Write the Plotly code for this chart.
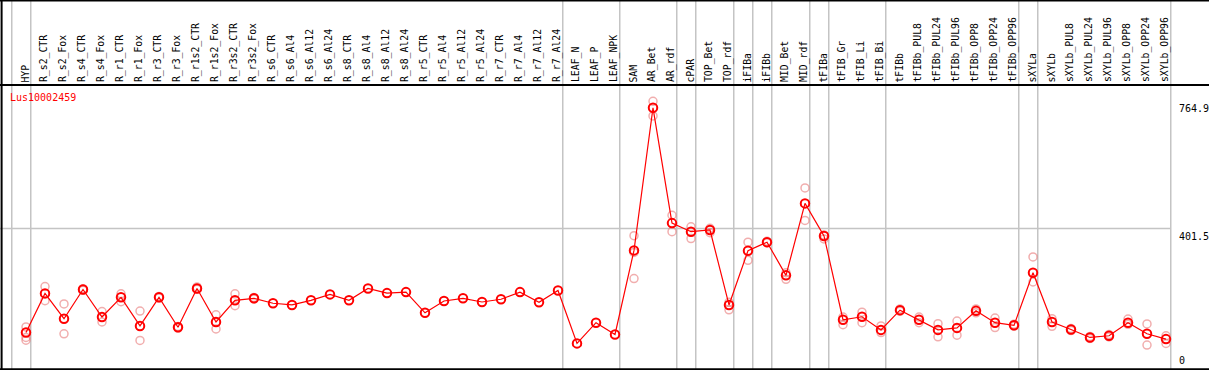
import plotly.graph_objects as go

categories = ["HYP", "R_s2_CTR", "R_s2_Fox", "R_s4_CTR", "R_s4_Fox", "R_r1_CTR", "R_r1_Fox",
              "R_r3_CTR", "R_r3_Fox", "R_r1s2_CTR", "R_r1s2_Fox", "R_r3s2_CTR", "R_r3s2_Fox",
              "R_s6_CTR", "R_s6_Al4", "R_s6_Al12", "R_s6_Al24", "R_s8_CTR", "R_s8_Al4", "R_s8_Al12",
              "R_s8_Al24", "R_r5_CTR", "R_r5_Al4", "R_r5_Al12", "R_r5_Al24", "R_r7_CTR", "R_r7_Al4",
              "R_r7_Al12", "R_r7_Al24", "LEAF_N", "LEAF_P", "LEAF_NPK", "SAM", "AR_Bet", "AR_rdf",
              "cPAR", "TOP_Bet", "TOP_rdf", "iFIBa", "iFIBb", "MID_Bet", "MID_rdf", "tFIBa",
              "tFIB_Gr", "tFIB_Li", "tFIB_Bi", "tFIBb", "tFIBb_PUL8", "tFIBb_PUL24", "tFIBb_PUL96",
              "tFIBb_OPP8", "tFIBb_OPP24", "tFIBb_OPP96", "sXYLa", "sXYLb", "sXYLb_PUL8",
              "sXYLb_PUL24", "sXYLb_PUL96", "sXYLb_OPP8", "sXYLb_OPP24", "sXYLb_OPP96"]

mean_values = [104.2, 216.1, 143.7, 227.3, 148.5, 204.8, 123.1, 204.8, 119.2, 230.1, 134.4,
               196.3, 202.0, 187.9, 183.1, 196.3, 213.2, 196.3, 230.1, 216.9, 219.7, 160.6,
               194.4, 202.0, 191.5, 199.2, 219.7, 190.7, 224.5, 73.2, 132.4, 98.6, 338.9,
               746.5, 416.9, 392.4, 397.2, 183.1, 338.0, 362.5, 267.6, 473.2, 380.3, 140.8,
               149.3, 111.8, 168.2, 140.8, 111.8, 117.5, 166.2, 132.4, 124.8, 275.2, 134.4,
               112.7, 90.1, 94.9, 132.4, 100.6, 85.4]

N = None
rep1_values = [120.3, 235.8, 185.9, 229.0, 164.2, 214.9, 165.4, 207.0, 121.1, 234.6, 154.9,
               214.9, 204.2, N, N, N, N, N, N, N, N, N, N, N, N, N, N, N, N, N, N, N, 381.1,
               764.9, 439.4, 406.5, 402.0, 190.7, 362.5, 364.8, 275.2, 517.5, 383.1, 148.5,
               162.5, 123.1, 171.8, 148.5, 129.6, 137.2, 171.8, 145.6, 128.2, 320.3, 143.7,
               115.5, 93.0, 98.6, 142.8, 128.7, 94.9]
rep2_values = [90.1, 195.2, 100.6, 225.4, 134.4, 192.4, 81.7, 202.8, 116.9, 228.2, 114.6,
               181.1, 200.0, N, N, N, N, N, N, N, N, N, N, N, N, N, N, N, N, N, N, N, 258.3,
               723.1, 392.4, 372.7, 389.6, 169.0, 310.7, 360.6, 256.3, 424.5, 371.8, 126.8,
               132.4, 104.2, 164.8, 132.4, 92.1, 96.6, 160.6, 118.3, 122.5, 248.7, 122.0,
               109.9, 87.3, 91.5, 127.6, 68.5, 73.2]
rep3_values = [82.5] + [N] * 31 + [333.2] + [N] * 28

gene_name = "Lus10002459"
max_label = "764.9"
mid_label = "401.5"
mid_value = 401.5
separators_after = [-1, 0, 28, 31, 34, 35, 37, 38, 39, 41, 42, 45, 52, 53, 60]

W, H = 1209, 370
xi = list(range(len(categories)))
x_range = [-26 / 19, (W - 26) / 19]
y_range = [-2.858, 1054.5]

def py(pix):
    return 1 - pix / H

fig = go.Figure()

rep_color = "rgba(232,120,120,0.6)"
for reps in (rep1_values, rep2_values, rep3_values):
    fig.add_trace(go.Scatter(
        x=xi, y=reps, mode="markers", showlegend=False, hoverinfo="skip",
        marker=dict(symbol="circle-open", size=8, color=rep_color, line=dict(width=1.5, color=rep_color)),
    ))

fig.add_trace(go.Scatter(
    x=xi, y=mean_values, mode="lines+markers", showlegend=False,
    line=dict(color="#ff0000", width=1.2),
    marker=dict(symbol="circle-open", size=8.5, color="#ff0000", line=dict(width=2, color="#ff0000")),
))

shapes = []
for s in separators_after:
    shapes.append(dict(type="line", xref="x", yref="paper", x0=s + 0.25, x1=s + 0.25, y0=0, y1=1,
                       line=dict(color="#c4c4c4", width=1.5), layer="below"))
shapes.append(dict(type="line", xref="paper", yref="y", x0=0, x1=(26 + 19 * 60.25) / W,
                   y0=mid_value, y1=mid_value, line=dict(color="#c4c4c4", width=1.5), layer="below"))
# header separator and frame
shapes.append(dict(type="line", xref="paper", yref="paper", x0=0, x1=1, y0=py(85), y1=py(85),
                   line=dict(color="black", width=2)))
shapes.append(dict(type="line", xref="paper", yref="paper", x0=0, x1=1, y0=py(0.5), y1=py(0.5),
                   line=dict(color="black", width=2)))
shapes.append(dict(type="line", xref="paper", yref="paper", x0=0, x1=1, y0=py(369.2), y1=py(369.2),
                   line=dict(color="black", width=2)))
shapes.append(dict(type="line", xref="paper", yref="paper", x0=1.6 / W, x1=1.6 / W, y0=0, y1=1,
                   line=dict(color="black", width=2)))

annotations = []
for i, c in enumerate(categories):
    annotations.append(dict(x=i - 0.05, xref="x", y=py(83.5), yref="paper", text=c, showarrow=False,
                            textangle=-90, xanchor="center", yanchor="bottom",
                            font=dict(family="DejaVu Sans Mono", size=9.8, color="black"),
                            borderpad=0))
annotations.append(dict(x=9 / W, xref="paper", y=py(97), yref="paper", text=gene_name, showarrow=False,
                        xanchor="left", yanchor="middle", borderpad=0,
                        font=dict(family="DejaVu Sans Mono", size=10, color="#ff0000")))
annotations.append(dict(x=1178 / W, xref="paper", y=py(102), yref="paper", text=max_label, showarrow=False,
                        xanchor="left", yanchor="top", borderpad=0,
                        font=dict(family="DejaVu Sans Mono", size=10, color="black")))
annotations.append(dict(x=1178 / W, xref="paper", y=py(229.5), yref="paper", text=mid_label, showarrow=False,
                        xanchor="left", yanchor="top", borderpad=0,
                        font=dict(family="DejaVu Sans Mono", size=10, color="black")))
annotations.append(dict(x=1178 / W, xref="paper", y=py(367), yref="paper", text="0", showarrow=False,
                        xanchor="left", yanchor="bottom", borderpad=0,
                        font=dict(family="DejaVu Sans Mono", size=10, color="black")))

fig.update_layout(
    width=W, height=H, margin=dict(l=0, r=0, t=0, b=0),
    paper_bgcolor="white", plot_bgcolor="white",
    xaxis=dict(range=x_range, visible=False, showgrid=False, zeroline=False, fixedrange=True),
    yaxis=dict(range=y_range, visible=False, showgrid=False, zeroline=False, fixedrange=True),
    shapes=shapes, annotations=annotations, showlegend=False,
)

fig.write_html("out.html", config={"displayModeBar": False},
               post_script="document.body.style.margin='0px';document.body.style.overflow='hidden';")
